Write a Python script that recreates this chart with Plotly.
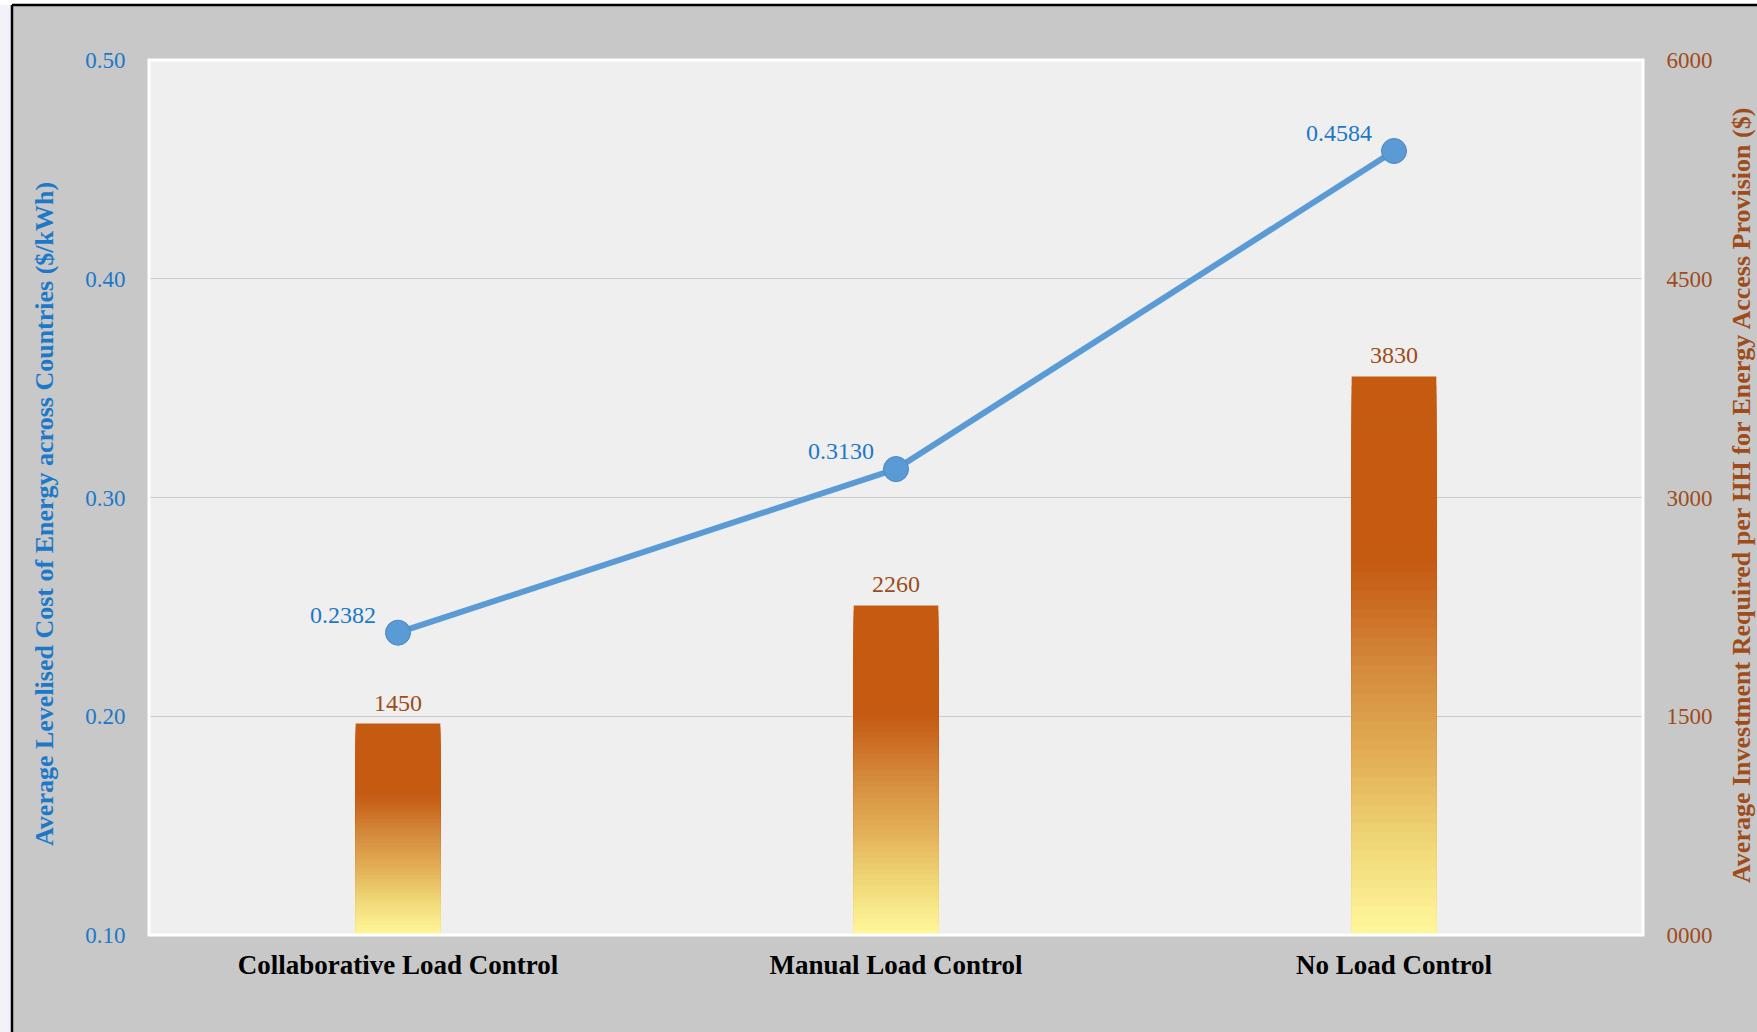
import plotly.graph_objects as go

# ---------------- data ----------------
categories = ["Collaborative Load Control", "Manual Load Control", "No Load Control"]
investment = [1450, 2260, 3830]                 # right axis ($)
lcoe = [0.2382, 0.3130, 0.4584]                 # left axis ($/kWh)
lcoe_labels = ["0.2382", "0.3130", "0.4584"]
investment_labels = ["1450", "2260", "3830"]
left_tickvals = [0.10, 0.20, 0.30, 0.40, 0.50]
left_ticktext = ["0.10", "0.20", "0.30", "0.40", "0.50"]
right_tickvals = [0, 1500, 3000, 4500, 6000]
right_ticktext = ["0000", "1500", "3000", "4500", "6000"]

left_title = "Average Levelised Cost of Energy across Countries ($/kWh)"
right_title = "Average Investment Required per HH for Energy Access Provision ($)"

# ---------------- style ----------------
W, H = 1757, 1032
L, R, T, B = 149, 114, 60, 97
SERIF = "Liberation Serif"
BLUE_TXT = "#1c78c8"
BROWN_TXT = "#9e4c1a"
LINE_BLUE = "#5b9bd5"

grad_stops = [(0.0, (255, 248, 156)), (0.16, (240, 216, 120)), (0.32, (226, 174, 85)),
              (0.48, (212, 138, 60)), (0.63, (200, 98, 26)), (0.68, (197, 90, 17)),
              (1.0, (197, 90, 17))]


def grad_color(f):
    for (f0, c0), (f1, c1) in zip(grad_stops[:-1], grad_stops[1:]):
        if f0 <= f <= f1:
            t = 0 if f1 == f0 else (f - f0) / (f1 - f0)
            c = [round(a + (b - a) * t) for a, b in zip(c0, c1)]
            return "rgb(%d,%d,%d)" % tuple(c)
    return "rgb(%d,%d,%d)" % grad_stops[-1][1]


def px(x):
    return (x - L) / (W - L - R)


def py(y):
    return (H - B - y) / (H - T - B)


fig = go.Figure()

# gradient bars: overlaid layers from full height down to the bottom
N = 60
for k in range(N, 0, -1):
    frac = k / N
    fig.add_trace(go.Bar(
        x=categories, y=[v * frac for v in investment], yaxis="y",
        width=0.17, marker=dict(color=grad_color(frac - 0.5 / N), line=dict(width=0)),
        hoverinfo="skip", showlegend=False,
    ))

# LCOE line
fig.add_trace(go.Scatter(
    x=categories, y=lcoe, yaxis="y2", mode="lines+markers",
    line=dict(color=LINE_BLUE, width=6),
    marker=dict(size=25, color=LINE_BLUE, line=dict(width=1, color="#4a86c0")),
    showlegend=False, cliponaxis=False,
))

annotations = []
for c, v, t in zip(categories, investment, investment_labels):
    annotations.append(dict(x=c, y=v, xref="x", yref="y", text=t, showarrow=False,
                            xanchor="center", yanchor="bottom", yshift=6,
                            font=dict(family=SERIF, size=24, color=BROWN_TXT)))
for c, v, t in zip(categories, lcoe, lcoe_labels):
    annotations.append(dict(x=c, y=v, xref="x", yref="y2", text=t, showarrow=False,
                            xanchor="right", yanchor="bottom", xshift=-20, yshift=3,
                            font=dict(family=SERIF, size=24, color=BLUE_TXT)))
# axis titles
annotations.append(dict(x=px(44), y=py(514), xref="paper", yref="paper", text=left_title,
                        textangle=-90, showarrow=False, xanchor="center", yanchor="middle",
                        font=dict(family=SERIF, size=26, color=BLUE_TXT, weight="bold")))
annotations.append(dict(x=px(1741), y=py(496), xref="paper", yref="paper", text=right_title,
                        textangle=-90, showarrow=False, xanchor="center", yanchor="middle",
                        font=dict(family=SERIF, size=26, color=BROWN_TXT, weight="bold")))

shapes = [
    dict(type="rect", xref="paper", yref="paper", x0=px(-5), x1=px(W + 5), y0=py(5), y1=py(-5),
         fillcolor="white", line=dict(width=0), layer="above"),
    dict(type="rect", xref="paper", yref="paper", x0=px(-5), x1=px(12), y0=py(H + 5), y1=py(5),
         fillcolor="#f3f1fa", line=dict(width=0), layer="above"),
    dict(type="line", xref="paper", yref="paper", x0=px(12), x1=px(W + 5), y0=py(5), y1=py(5),
         line=dict(color="black", width=2.5), layer="above"),
    dict(type="line", xref="paper", yref="paper", x0=px(12), x1=px(12), y0=py(H + 5), y1=py(5),
         line=dict(color="black", width=2.5), layer="above"),
    dict(type="rect", xref="paper", yref="paper", x0=0, x1=1, y0=0, y1=1,
         line=dict(color="white", width=3), layer="above"),
]

fig.update_layout(
    width=W, height=H,
    margin=dict(l=L, r=R, t=T, b=B),
    paper_bgcolor="#c8c8c8",
    plot_bgcolor="#efefef",
    barmode="overlay",
    showlegend=False,
    shapes=shapes,
    annotations=annotations,
    xaxis=dict(
        type="category", showgrid=False, showline=False, zeroline=False,
        ticks="outside", ticklen=6, tickcolor="rgba(0,0,0,0)",
        tickfont=dict(family=SERIF, size=27, color="black", weight="bold"),
    ),
    yaxis=dict(
        side="right", range=[0, 6000], tickvals=right_tickvals, ticktext=right_ticktext,
        showgrid=True, gridcolor="#cacaca", gridwidth=1, zeroline=False, showline=False,
        ticks="outside", ticklen=18, tickcolor="rgba(0,0,0,0)",
        tickfont=dict(family=SERIF, size=23, color=BROWN_TXT),
    ),
    yaxis2=dict(
        side="left", overlaying="y", range=[0.1, 0.5], tickvals=left_tickvals,
        ticktext=left_ticktext, showgrid=False, zeroline=False, showline=False,
        ticks="outside", ticklen=18, tickcolor="rgba(0,0,0,0)",
        tickfont=dict(family=SERIF, size=23, color=BLUE_TXT),
    ),
)

fig.write_html("out.html")
